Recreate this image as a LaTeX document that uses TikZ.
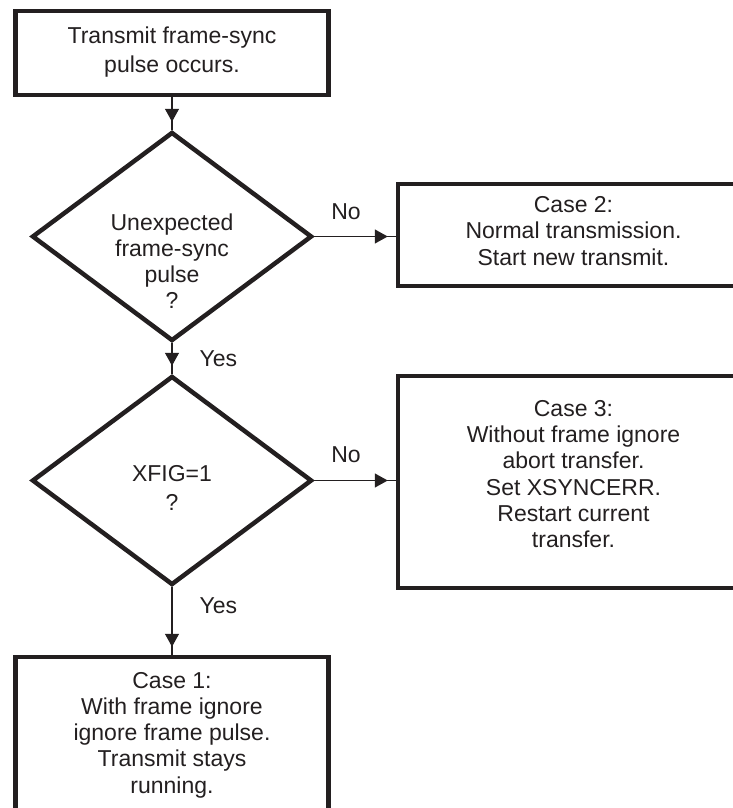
\documentclass[tikz,border=0pt]{standalone}
\usepackage{fontspec}
\setmainfont{Liberation Sans}
\usetikzlibrary{shapes.geometric,arrows.meta,decorations.markings}

\begin{document}
\begin{tikzpicture}[x=1pt, y=-1pt,
  box/.style={draw=ink, line width=4.5pt, rectangle, inner sep=0pt},
  decision/.style={draw=ink, line width=4.5pt, diamond, inner sep=0pt,
    minimum width=280pt, minimum height=209pt},
  txt/.style={text=ink, align=center, inner sep=0pt,
    font=\fontsize{23}{26.2}\selectfont},
  lbl/.style={text=ink, inner sep=0pt, font=\fontsize{23}{26.2}\selectfont},
  flow/.style={ink, line width=1.3pt,
    decoration={markings, mark=at position -8pt with
      {\arrow{Triangle[length=13pt, width=14pt]}}},
    postaction={decorate}}]
\definecolor{ink}{RGB}{35,31,32}
\useasboundingbox (0,0) rectangle (733,808);
\clip (0,0) rectangle (733,808);

\node[box, minimum width=313pt, minimum height=84pt] (start) at (172,53) {};
\node[txt] (starttext) at (172,52) {Transmit frame-sync\\[3.5pt]pulse occurs.};

\node[decision] (unexp) at (172,236.5) {};
\node[txt] (unexptext) at (172,261) {Unexpected\\frame-sync\\pulse\\?};

\node[decision] (xfig) at (172,480.5) {};
\node[txt] (xfigtext) at (172,488) {XFIG=1\\[2.5pt]?};

\node[box, minimum width=352pt, minimum height=102pt] (case2) at (574,235) {};
\node[txt] (case2text) at (573.5,231)
  {Case 2:\\Normal transmission.\\Start new transmit.};

\node[box, minimum width=352pt, minimum height=212pt] (case3) at (574,482) {};
\node[txt] (case3text) at (573.5,474)
  {Case 3:\\Without frame ignore\\abort transfer.\\Set XSYNCERR.\\
   Restart current\\transfer.};

\node[box, minimum width=313pt, minimum height=173pt] (case1) at (172,743.5) {};
\node[txt] (case1text) at (172,735)
  {Case 1:\\With frame ignore\\ignore frame pulse.\\Transmit stays\\running.};

\draw[flow] (start.south) -- (unexp.north);
\draw[flow] (unexp.east) -- (unexp.east -| case2.west)
  node[lbl, pos=0.39, above=16pt] (no1) {No};
\draw[flow] (unexp.south) -- (xfig.north)
  node[lbl, pos=0.5, right=27pt] (yes1) {Yes};
\draw[flow] (xfig.east) -- (xfig.east -| case3.west)
  node[lbl, pos=0.39, above=17pt] (no2) {No};
\draw[flow] (xfig.south) -- (case1.north)
  node[lbl, pos=0.28, right=27pt] (yes2) {Yes};

\end{tikzpicture}
\end{document}
